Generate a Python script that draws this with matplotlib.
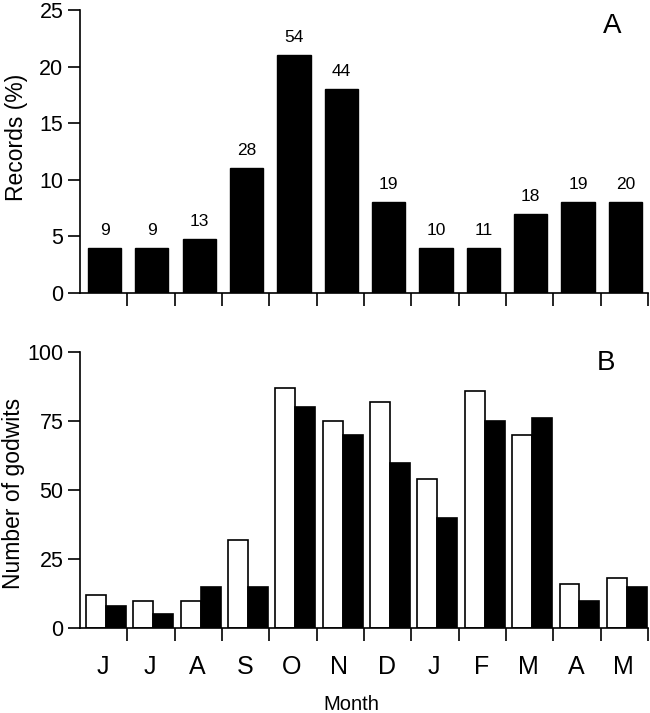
import numpy as np
import matplotlib
matplotlib.use("Agg")
import matplotlib.pyplot as plt

plt.rcParams['font.family'] = ['Liberation Sans', 'DejaVu Sans']

# Data
months = ['J', 'J', 'A', 'S', 'O', 'N', 'D', 'J', 'F', 'M', 'A', 'M']
records_pct = [4, 4, 4.8, 11, 21, 18, 8, 4, 4, 7, 8, 8]
records_n = [9, 9, 13, 28, 54, 44, 19, 10, 11, 18, 19, 20]
godwits_open = [12, 10, 10, 32, 87, 75, 82, 54, 86, 70, 16, 18]
godwits_filled = [8, 5, 15, 15, 80, 70, 60, 40, 75, 76, 10, 15]

x = np.arange(len(months))

fig = plt.figure(figsize=(6.5, 7.13), dpi=100)
ax1 = fig.add_axes([0.123, 0.589, 0.874, 0.397])
ax2 = fig.add_axes([0.123, 0.119, 0.874, 0.387])

for ax in (ax1, ax2):
    ax.spines['top'].set_visible(False)
    ax.spines['right'].set_visible(False)
    ax.spines['left'].set_linewidth(1.2)
    ax.spines['bottom'].set_linewidth(1.2)
    ax.set_xlim(0, 12)
    ax.set_xticks(np.arange(1, 13))
    ax.set_xticklabels([])
    ax.tick_params(axis='x', which='major', direction='out', length=9, width=1.2)
    ax.tick_params(axis='y', direction='out', length=8.5, width=1.2, labelsize=15.5, pad=3.5)

# Panel A
ax1.bar(x + 0.52, records_pct, width=0.7, color='black', edgecolor='black')
for xi, v, n in zip(x, records_pct, records_n):
    ax1.text(xi + 0.52, v + 0.9, str(n), ha='center', va='bottom', fontsize=12.5)
ax1.set_ylim(0, 25)
ax1.set_yticks([0, 5, 10, 15, 20, 25])
ax1.set_ylabel('Records (%)', fontsize=16.5)
ax1.yaxis.set_label_coords(-0.092, 0.551)
ax1.text(0.937, 0.943, 'A', transform=ax1.transAxes, fontsize=20, ha='center', va='center')

# Panel B
w = 0.42
ax2.bar(x + 0.55 - w / 2, godwits_open, width=w, color='white', edgecolor='black', linewidth=1.2)
ax2.bar(x + 0.55 + w / 2, godwits_filled, width=w, color='black', edgecolor='black', linewidth=1.2)
ax2.set_ylim(0, 100)
ax2.set_yticks([0, 25, 50, 75, 100])
ax2.set_ylabel('Number of godwits', fontsize=16.5)
ax2.yaxis.set_label_coords(-0.096, 0.49)
ax2.set_xticks(x + 0.48, minor=True)
ax2.set_xticklabels(months, minor=True, fontsize=18)
ax2.tick_params(axis='x', which='minor', length=0, pad=19)
ax2.set_xlabel('Month', fontsize=14.5)
ax2.xaxis.set_label_coords(0.477, -0.243)
ax2.text(0.926, 0.96, 'B', transform=ax2.transAxes, fontsize=20, ha='center', va='center')

fig.savefig('out.png', dpi=100)
